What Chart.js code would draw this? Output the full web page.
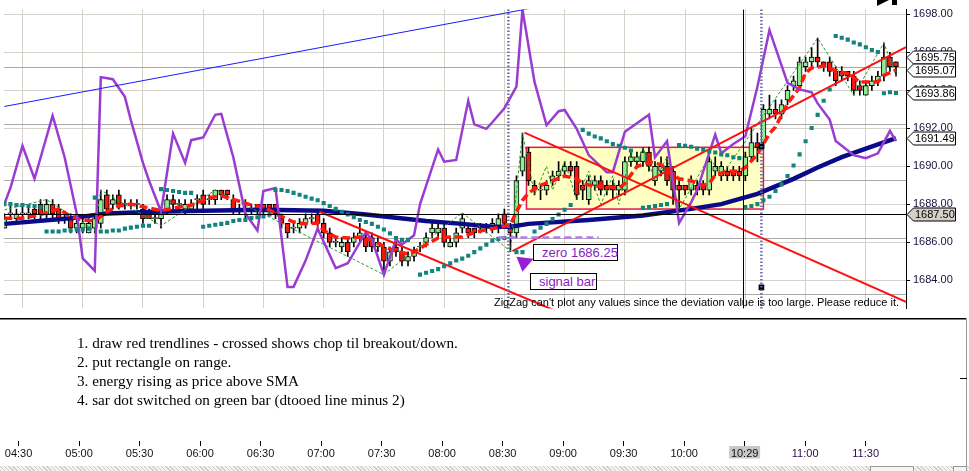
<!DOCTYPE html>
<html>
<head>
<meta charset="utf-8">
<script src="https://cdn.jsdelivr.net/npm/chart.js@4.4.1/dist/chart.umd.min.js"></script>
<style>
  html, body { margin: 0; padding: 0; background: #fff; }
  #wrap { position: relative; width: 969px; height: 471px; overflow: hidden; background: #fff; }
  #priceCanvas { position: absolute; left: 0; top: 0; }
  #timeCanvas { position: absolute; left: 0; top: 318px; }
  .note { position: absolute; left: 77px; font: 15.2px "Liberation Serif", serif; color: #000; line-height: 19px; white-space: nowrap; }
  .tag { position: absolute; box-sizing: border-box; height: 17px; border: 1px solid #000; background: #fff; color: #8a1cc4; font: 13px "Liberation Sans", sans-serif; line-height: 15px; padding-left: 8px; white-space: nowrap; }
  #zzmsg { position: absolute; left: 400px; width: 499px; top: 296px; text-align: right; font: 11px "Liberation Sans", sans-serif; line-height: 12px; color: #000; white-space: nowrap; }
  #scroll { position: absolute; left: 0; top: 466px; width: 969px; height: 5px; background: repeating-linear-gradient(45deg, #cfcfcf 0 1px, #f2f2f2 1px 3px); }
  .thumb { position: absolute; top: 466px; height: 5px; box-sizing: border-box; border: 1px solid #9a9a9a; border-bottom: none; background: #f4f4f4; }
</style>
</head>
<body>
<div id="wrap">
  <canvas id="priceCanvas" width="969" height="318"></canvas>
  <canvas id="timeCanvas" width="969" height="153"></canvas>
  <div id="zzmsg">ZigZag can't plot any values since the deviation value is too large. Please reduce it.</div>
  <div class="tag" style="left:533px; top:244px; width:85px;">zero 1686.25</div>
  <div class="tag" style="left:530px; top:273px; width:67px;">signal bar</div>
  <div class="note" style="top:333px">1. draw red trendlines - crossed shows chop til breakout/down.</div>
  <div class="note" style="top:352px">2. put rectangle on range.</div>
  <div class="note" style="top:371px">3. energy rising as price above SMA</div>
  <div class="note" style="top:390px">4. sar dot switched on green bar (dtooed line minus 2)</div>
  <div id="scroll"></div>
  <div class="thumb" style="left:870px; width:44px;"></div>
  <div class="thumb" style="left:953px; width:14px;"></div>
</div>
<script>
Chart.defaults.font.family = '"Liberation Sans", Arial, sans-serif';

// 3 minute bars, first one at 04:21
const firstBar = '04:21';
const barMinutes = 3;

const opens = [
  1686.75, 1687.50, 1687.25, 1687.50, 1687.50, 1687.75, 1688.00, 1687.50, 1688.00, 1687.75,
  1687.25, 1687.25, 1686.75, 1686.75, 1686.50, 1686.75, 1687.00, 1688.50, 1688.00, 1688.50,
  1688.00, 1688.00, 1688.00, 1687.75, 1687.50, 1687.25, 1687.25, 1687.75, 1688.25, 1688.00,
  1687.75, 1687.75, 1688.25, 1688.50, 1688.25, 1688.25, 1688.75, 1688.75, 1688.25, 1687.75,
  1687.75, 1687.75, 1688.00, 1688.00, 1688.00, 1688.00, 1687.25, 1687.00, 1686.75, 1686.75,
  1687.00, 1687.25, 1687.50, 1687.00, 1686.50, 1686.00, 1685.75, 1686.00, 1686.00, 1686.25,
  1686.25, 1686.25, 1685.75, 1685.75, 1685.00, 1685.75, 1685.50, 1685.00, 1685.25, 1685.75,
  1686.00, 1686.50, 1686.50, 1686.75, 1685.75, 1686.00, 1686.75, 1686.75, 1686.75, 1686.75,
  1686.75, 1686.75, 1686.75, 1687.50, 1686.75, 1686.50, 1689.75, 1690.75, 1689.00, 1688.75,
  1688.75, 1689.25, 1689.50, 1689.75, 1690.00, 1690.00, 1689.00, 1688.25, 1689.00, 1689.25,
  1689.00, 1689.00, 1688.75, 1688.75, 1690.25, 1690.25, 1690.25, 1690.75, 1689.25, 1689.75,
  1690.00, 1689.75, 1689.00, 1689.00, 1688.75, 1689.00, 1689.00, 1688.75, 1689.75, 1689.50,
  1689.75, 1689.75, 1689.75, 1689.50, 1690.50, 1691.25, 1691.25, 1692.75, 1693.00, 1692.75,
  1693.50, 1694.25, 1694.25, 1695.25, 1695.50, 1695.75, 1695.50, 1695.50, 1695.00, 1695.00,
  1695.00, 1694.75, 1694.25, 1693.75, 1694.25, 1694.50, 1694.75, 1695.75, 1695.50
];
const highs = [
  1687.50, 1688.00, 1687.75, 1688.00, 1688.00, 1688.00, 1688.25, 1688.25, 1688.25, 1688.00,
  1687.50, 1687.50, 1687.25, 1687.25, 1687.25, 1687.50, 1688.75, 1688.75, 1688.50, 1688.75,
  1688.25, 1688.25, 1688.25, 1688.00, 1687.75, 1687.75, 1687.75, 1688.50, 1688.50, 1688.25,
  1688.25, 1688.25, 1688.50, 1688.75, 1688.50, 1688.75, 1688.75, 1688.75, 1688.50, 1688.00,
  1688.25, 1688.00, 1688.00, 1688.00, 1688.00, 1688.00, 1687.50, 1687.00, 1687.00, 1687.25,
  1687.50, 1687.50, 1687.75, 1687.25, 1686.75, 1686.25, 1686.25, 1686.25, 1686.50, 1687.00,
  1686.50, 1686.50, 1686.25, 1686.00, 1685.75, 1686.00, 1685.75, 1685.50, 1685.75, 1686.00,
  1686.50, 1687.00, 1687.00, 1687.00, 1686.25, 1686.75, 1687.50, 1687.00, 1686.75, 1687.00,
  1687.00, 1687.25, 1687.50, 1687.75, 1687.00, 1689.50, 1691.75, 1691.00, 1689.25, 1689.00,
  1689.25, 1689.75, 1690.25, 1690.25, 1690.25, 1690.25, 1689.25, 1689.50, 1689.50, 1689.50,
  1689.25, 1689.25, 1689.25, 1690.50, 1690.75, 1690.75, 1691.00, 1691.00, 1690.25, 1690.50,
  1690.50, 1690.00, 1689.25, 1689.00, 1689.50, 1689.25, 1689.25, 1690.50, 1690.50, 1690.25,
  1690.00, 1690.00, 1690.00, 1690.75, 1692.00, 1691.75, 1693.25, 1693.75, 1693.50, 1693.50,
  1694.25, 1694.75, 1695.75, 1695.75, 1696.25, 1696.75, 1695.50, 1695.75, 1695.25, 1695.25,
  1695.00, 1695.00, 1694.50, 1694.50, 1694.75, 1695.00, 1696.50, 1696.00, 1695.50
];
const lows = [
  1686.75, 1687.25, 1687.00, 1687.25, 1687.25, 1687.25, 1687.25, 1687.25, 1687.25, 1687.00,
  1687.00, 1686.50, 1686.50, 1686.50, 1686.50, 1686.50, 1686.75, 1687.50, 1687.75, 1687.75,
  1687.75, 1687.75, 1687.75, 1687.00, 1687.25, 1687.00, 1686.75, 1687.50, 1687.75, 1687.75,
  1687.50, 1687.75, 1687.75, 1687.75, 1688.00, 1688.00, 1688.25, 1688.25, 1687.50, 1687.50,
  1687.25, 1687.50, 1687.50, 1687.50, 1687.50, 1687.25, 1686.75, 1686.25, 1686.50, 1686.50,
  1686.75, 1687.00, 1686.75, 1686.25, 1685.75, 1685.75, 1685.50, 1685.25, 1685.75, 1686.00,
  1685.50, 1685.50, 1685.50, 1684.25, 1684.75, 1685.25, 1684.75, 1684.75, 1685.00, 1685.50,
  1685.75, 1686.25, 1686.25, 1685.75, 1685.75, 1685.75, 1686.50, 1686.25, 1686.25, 1686.50,
  1686.50, 1686.50, 1686.50, 1686.75, 1685.50, 1686.25, 1689.50, 1689.00, 1688.50, 1688.25,
  1688.50, 1689.00, 1689.25, 1689.50, 1689.50, 1688.25, 1688.25, 1688.00, 1688.75, 1688.50,
  1688.50, 1688.25, 1688.50, 1688.50, 1690.00, 1690.00, 1690.00, 1689.75, 1689.00, 1689.50,
  1689.00, 1688.00, 1687.75, 1688.50, 1688.50, 1688.50, 1688.50, 1688.50, 1689.50, 1689.25,
  1689.25, 1689.25, 1689.25, 1689.25, 1690.25, 1690.25, 1691.00, 1692.50, 1692.50, 1692.50,
  1693.25, 1694.00, 1694.00, 1695.00, 1695.25, 1695.25, 1695.00, 1694.75, 1694.25, 1694.50,
  1694.50, 1693.75, 1693.75, 1693.75, 1694.00, 1694.25, 1694.50, 1695.00, 1694.75
];
const closes = [
  1687.25, 1687.50, 1687.50, 1687.50, 1687.50, 1687.50, 1687.50, 1688.00, 1687.50, 1687.25,
  1687.25, 1686.75, 1687.00, 1687.00, 1687.00, 1687.25, 1688.25, 1687.75, 1688.25, 1688.00,
  1688.00, 1688.00, 1688.00, 1687.25, 1687.25, 1687.25, 1687.50, 1688.25, 1688.00, 1688.00,
  1688.00, 1688.00, 1688.25, 1688.00, 1688.25, 1688.75, 1688.50, 1688.50, 1687.75, 1687.75,
  1687.75, 1687.75, 1687.75, 1687.75, 1687.75, 1687.50, 1687.00, 1686.50, 1686.75, 1687.00,
  1687.25, 1687.25, 1687.00, 1686.50, 1686.00, 1686.00, 1686.00, 1685.50, 1686.25, 1686.50,
  1685.75, 1685.75, 1686.00, 1685.00, 1685.50, 1685.50, 1685.00, 1685.25, 1685.50, 1685.75,
  1686.25, 1686.75, 1686.75, 1686.00, 1686.00, 1686.50, 1687.25, 1686.50, 1686.50, 1686.75,
  1686.75, 1687.00, 1687.25, 1687.00, 1686.50, 1689.25, 1690.50, 1689.25, 1688.75, 1688.75,
  1689.00, 1689.50, 1689.75, 1690.00, 1689.75, 1688.50, 1688.75, 1689.25, 1689.25, 1688.75,
  1688.75, 1688.75, 1689.00, 1690.25, 1690.50, 1690.50, 1690.75, 1690.00, 1690.00, 1690.00,
  1689.25, 1688.75, 1688.75, 1688.75, 1689.25, 1688.75, 1688.75, 1690.25, 1690.00, 1690.00,
  1689.50, 1689.50, 1689.50, 1690.50, 1691.25, 1691.00, 1693.00, 1693.00, 1692.75, 1693.25,
  1694.00, 1694.50, 1695.50, 1695.50, 1695.75, 1695.50, 1695.25, 1695.00, 1694.50, 1694.75,
  1694.75, 1694.00, 1694.00, 1694.25, 1694.50, 1694.75, 1695.75, 1695.25, 1695.25
];

// indicators as [bar index, value]
const smaLine = [
  [0, 1686.97], [11, 1687.27], [17, 1687.51], [25, 1687.61], [33, 1687.66], [43, 1687.71],
  [53, 1687.66], [60, 1687.46], [70, 1687.12], [76, 1686.97], [81, 1686.82], [84, 1686.82],
  [87, 1686.97], [97, 1687.17], [106, 1687.41], [114, 1687.76], [119, 1688.01], [125, 1688.55],
  [131, 1689.34], [135, 1689.94], [139, 1690.48], [143, 1690.93], [148, 1691.49]
];
const fastAvg = [
  [0, 1687.27], [3, 1687.27], [6, 1687.46], [9, 1687.76], [11, 1687.36], [13, 1687.17],
  [15, 1687.12], [17, 1687.61], [19, 1687.91], [21, 1688.01], [24, 1687.81], [26, 1687.66],
  [29, 1687.86], [31, 1687.96], [34, 1688.35], [36, 1688.45], [39, 1688.16], [41, 1687.96],
  [43, 1687.86], [46, 1687.36], [48, 1687.07], [50, 1686.97], [52, 1687.02], [53, 1686.62],
  [55, 1686.28], [57, 1686.23], [59, 1686.28], [61, 1686.13], [63, 1685.78], [65, 1685.53],
  [67, 1685.39], [68, 1685.48], [70, 1685.88], [72, 1686.23], [74, 1686.28], [76, 1686.28],
  [78, 1686.52], [80, 1686.67], [82, 1686.77], [84, 1686.92], [85, 1687.61], [86, 1688.21],
  [87, 1688.60], [89, 1689.00], [91, 1689.24], [93, 1689.49], [95, 1689.34], [96, 1689.10],
  [98, 1688.95], [100, 1688.95], [102, 1688.85], [103, 1689.10], [105, 1689.99], [107, 1690.23],
  [109, 1690.09], [111, 1689.54], [112, 1689.34], [114, 1689.24], [116, 1689.00], [117, 1689.10],
  [118, 1689.54], [120, 1689.74], [122, 1689.74], [123, 1689.94], [125, 1690.63], [126, 1691.17],
  [127, 1691.72], [128, 1692.07], [130, 1693.30], [132, 1694.14], [133, 1694.93], [134, 1695.18],
  [136, 1695.28], [138, 1695.03], [140, 1694.89], [142, 1694.44], [145, 1694.44], [146, 1694.79],
  [148, 1695.07]
];
const zigzag = [
  [0, 1687.71], [7, 1688.25], [15, 1686.62], [16, 1688.75], [26, 1686.87], [35, 1688.75],
  [63, 1684.30], [76, 1687.56], [84, 1685.53], [86, 1691.77], [88, 1688.50], [90, 1690.00],
  [91, 1688.75], [93, 1690.25], [95, 1688.25], [97, 1689.75], [99, 1688.00], [101, 1689.50],
  [102, 1688.00], [104, 1690.75], [105, 1690.25], [106, 1691.00], [108, 1689.25], [110, 1690.50],
  [112, 1687.75], [117, 1690.50], [119, 1689.50], [135, 1696.75], [141, 1693.75], [146, 1696.50],
  [148, 1694.75]
];
const sarDots = [
  [0, 1688.01], [1, 1688.01], [2, 1687.96], [3, 1687.96], [4, 1687.91], [5, 1687.91], [6, 1687.86],
  [7, 1686.57], [8, 1686.57], [9, 1686.57], [10, 1686.62], [11, 1686.62], [12, 1686.67], [13, 1686.67], [14, 1686.72],
  [15, 1688.35],
  [16, 1686.57], [17, 1686.57], [18, 1686.62], [19, 1686.62], [20, 1686.72], [21, 1686.77], [22, 1686.82], [23, 1686.87], [24, 1686.87],
  [26, 1688.80], [27, 1688.75], [28, 1688.70], [29, 1688.65], [30, 1688.60], [31, 1688.60],
  [33, 1686.82], [34, 1686.87], [35, 1686.92], [36, 1686.97], [37, 1687.02], [38, 1687.12], [39, 1687.17], [40, 1687.17],
  [41, 1687.27], [42, 1687.32], [43, 1687.36], [44, 1687.46],
  [45, 1688.75], [46, 1688.75], [47, 1688.70], [48, 1688.60], [49, 1688.50], [50, 1688.40], [51, 1688.30], [52, 1688.21],
  [53, 1688.06], [54, 1687.91], [55, 1687.76], [56, 1687.61], [57, 1687.46], [58, 1687.32], [59, 1687.17], [60, 1687.07],
  [61, 1686.97], [62, 1686.82], [63, 1686.67], [64, 1686.47], [65, 1686.23], [66, 1686.13], [67, 1686.13],
  [69, 1684.30], [70, 1684.40], [71, 1684.49], [72, 1684.59], [73, 1684.74], [74, 1684.89], [75, 1685.04], [76, 1685.14],
  [77, 1685.29], [78, 1685.48], [79, 1685.68], [80, 1685.88], [81, 1686.08], [82, 1686.18], [83, 1686.23],
  [85, 1685.48], [86, 1685.48],
  [88, 1686.57], [89, 1686.77], [90, 1686.97], [91, 1687.22], [92, 1687.46], [93, 1687.71], [94, 1687.96],
  [96, 1691.92], [97, 1691.72], [98, 1691.57], [99, 1691.47], [100, 1691.32], [101, 1691.17], [102, 1691.08], [103, 1690.98], [104, 1690.83],
  [106, 1687.81], [107, 1687.86], [108, 1687.91], [109, 1687.96], [110, 1688.01],
  [112, 1691.12], [113, 1691.08], [114, 1691.03], [115, 1690.93], [116, 1690.88], [117, 1690.78], [118, 1690.73],
  [119, 1690.63], [120, 1690.58], [121, 1690.48], [122, 1690.43],
  [123, 1687.86], [124, 1687.91], [125, 1688.01], [126, 1688.21], [127, 1688.40], [128, 1688.70], [129, 1689.05],
  [130, 1689.49], [131, 1690.04], [132, 1690.63], [133, 1691.32], [134, 1692.02], [135, 1692.71], [136, 1693.45], [137, 1694.04],
  [138, 1696.86], [139, 1696.77], [140, 1696.67], [141, 1696.52], [142, 1696.42], [143, 1696.27], [144, 1696.12], [145, 1696.02],
  [146, 1693.85], [147, 1693.90], [148, 1693.86]
];
// energy oscillator, 0..100 over the price pane
const energy = [
  [0, 34.9], [1, 40.3], [3, 54.4], [5, 43.4], [8, 64.5], [10, 50.6], [12, 31.8], [13, 16.7], [15, 12.6],
  [16, 77.4], [18, 76.7], [20, 70.8], [21, 62.9], [23, 48.7], [24, 42.8], [26, 32.4], [28, 58.5], [30, 48.7],
  [31, 56.3], [33, 57.2], [35, 64.8], [36, 65.1], [38, 50.6], [40, 31.8], [42, 26.1], [43, 39.3], [45, 40.3],
  [47, 7.2], [48, 7.2], [50, 16.0], [52, 26.7], [53, 22.3], [55, 13.5], [57, 15.1], [60, 25.5], [61, 23.0],
  [63, 11.3], [65, 23.0], [66, 21.4], [68, 24.5], [69, 34.9], [72, 53.2], [73, 49.1], [75, 49.7], [77, 69.5],
  [78, 61.6], [80, 60.1], [81, 62.3], [83, 67.0], [85, 74.2], [86, 100], [88, 75.8], [90, 61.3], [92, 66.0],
  [93, 66.4], [95, 60.1], [97, 51.3], [100, 45.6], [101, 45.6], [103, 59.1], [107, 64.8], [108, 50.6],
  [110, 56.0], [112, 28.6], [114, 35.5], [115, 39.6], [118, 58.2], [119, 51.9], [121, 55.0], [123, 57.6],
  [125, 74.2], [127, 93.1], [130, 75.5], [132, 73.3], [134, 72.3], [135, 68.6], [137, 63.2], [138, 56.0],
  [141, 51.3], [143, 50.3], [145, 51.9], [147, 59.4], [148, 56.0]
];

// drawn objects, [time, price]
const redTrends = [
  [['06:58', 1687.61], ['09:05', 1681.97]],
  [['08:40', 1691.77], ['11:50', 1682.86]],
  [['08:34', 1685.53], ['11:50', 1696.27]]
];
const blueTrend = [['04:21', 1693.15], ['09:00', 1698.65]];
const rangeStart = '08:41', rangeEnd = '10:39', rangeHigh = 1691.00, rangeLow = 1687.75;
const zeroStart = '08:27', zeroEnd = '09:17', zeroLevel = 1686.25;
const signalTimes = ['08:32', '10:38'];
const stopMarks = [['10:38', 1691.05], ['10:38', 1683.63]];
const crossTime = '10:29', crossPrice = 1687.50;

const priceTicks = [1684, 1686, 1688, 1690, 1692, 1694, 1696, 1698];
const majorLevels = [1683.25, 1686.22, 1689.24, 1692.21, 1695.18];
const priceFlags = [1695.75, 1695.07, 1693.86, 1691.49, 1687.50];
const timeTicks = ['04:30', '05:00', '05:30', '06:00', '06:30', '07:00', '07:30', '08:00',
  '08:30', '09:00', '09:30', '10:00', '10:30', '11:00', '11:30'];

const viewStart = 260.8, viewEnd = 710;
const priceMin = 1682.52, priceMax = 1698.25;

function toMin(s) {
  const [h, m] = s.split(':').map(Number);
  return h * 60 + m;
}

const barTimes = opens.map((o, i) => toMin(firstBar) + i * barMinutes);
const atBar = pairs => pairs.map(([i, v]) => ({ x: barTimes[i], y: v }));
const atTime = pts => pts.map(([t, v]) => ({ x: toMin(t), y: v }));

const bodies = opens.map((o, i) => ({ x: barTimes[i], y: [o, closes[i]] }));
const wicks = opens.map((o, i) => ({ x: barTimes[i], y: [lows[i], highs[i]] }));
const bodyColors = opens.map((o, i) => closes[i] < o ? '#f0180c' : '#90ee90');

function lineSet(data, color, width, extra) {
  return Object.assign({
    type: 'line', data: data, borderColor: color, borderWidth: width,
    pointRadius: 0, tension: 0, fill: false, yAxisID: 'y'
  }, extra || {});
}

const priceDecor = {
  id: 'priceDecor',
  beforeDatasetsDraw(chart) {
    const { ctx, scales: { x, y } } = chart;
    const l = x.getPixelForValue(toMin(rangeStart)), r = x.getPixelForValue(toMin(rangeEnd));
    const t = y.getPixelForValue(rangeHigh), b = y.getPixelForValue(rangeLow);
    ctx.save();
    ctx.fillStyle = '#ffffc4';
    ctx.fillRect(l, t, r - l, b - t);
    ctx.strokeStyle = '#e0174a';
    ctx.lineWidth = 1.5;
    ctx.strokeRect(l, t, r - l, b - t);
    ctx.restore();
  },
  afterDatasetsDraw(chart) {
    const { ctx, chartArea: area, scales: { x, y } } = chart;
    ctx.save();
    // crosshair
    ctx.strokeStyle = '#000';
    ctx.lineWidth = 1;
    const cy = Math.round(y.getPixelForValue(crossPrice)) + 0.5;
    const cx = Math.round(x.getPixelForValue(toMin(crossTime))) + 0.5;
    ctx.beginPath();
    ctx.moveTo(area.left, cy); ctx.lineTo(area.right, cy);
    ctx.moveTo(cx, area.top); ctx.lineTo(cx, area.bottom);
    ctx.stroke();
    // signal bar verticals
    ctx.strokeStyle = '#6a6ab0';
    ctx.lineWidth = 2.5;
    ctx.setLineDash([1.5, 2]);
    signalTimes.forEach(t => {
      const px = x.getPixelForValue(toMin(t));
      ctx.beginPath(); ctx.moveTo(px, area.top); ctx.lineTo(px, area.bottom); ctx.stroke();
    });
    // zero line
    ctx.strokeStyle = '#b47ce6';
    ctx.lineWidth = 2.5;
    ctx.setLineDash([7, 4]);
    const zy = y.getPixelForValue(zeroLevel);
    ctx.beginPath();
    ctx.moveTo(x.getPixelForValue(toMin(zeroStart)), zy);
    ctx.lineTo(x.getPixelForValue(toMin(zeroEnd)), zy);
    ctx.stroke();
    ctx.setLineDash([]);
    // arrow to the signal bar low
    const ax = x.getPixelForValue(barTimes[85]), ay = y.getPixelForValue(lows[84]) + 5;
    ctx.fillStyle = '#9a1ed6';
    ctx.beginPath();
    ctx.moveTo(ax, ay); ctx.lineTo(ax + 17, ay + 2); ctx.lineTo(ax + 6, ay + 15);
    ctx.closePath(); ctx.fill();
    ctx.restore();
  },
  afterDraw(chart) {
    const { ctx, scales: { y } } = chart;
    const axisX = y.left;
    ctx.save();
    ctx.font = '11px "Liberation Sans", Arial, sans-serif';
    ctx.textBaseline = 'middle';
    ctx.lineWidth = 1;
    ctx.strokeStyle = '#000';
    priceFlags.forEach(v => {
      const py = Math.round(y.getPixelForValue(v)) + 0.5;
      ctx.beginPath();
      ctx.moveTo(axisX + 1, py);
      ctx.lineTo(axisX + 7.5, py - 6.5);
      ctx.lineTo(axisX + 49.5, py - 6.5);
      ctx.lineTo(axisX + 49.5, py + 6.5);
      ctx.lineTo(axisX + 7.5, py + 6.5);
      ctx.closePath();
      ctx.fillStyle = v === crossPrice ? '#d4d0c8' : '#fff';
      ctx.fill();
      ctx.stroke();
      ctx.fillStyle = '#000';
      ctx.fillText(v.toFixed(2), axisX + 9, py + 0.5);
    });
    // corner buttons
    ctx.fillStyle = '#000';
    ctx.beginPath(); ctx.moveTo(877, 0); ctx.lineTo(889, 0); ctx.lineTo(877, 6); ctx.closePath(); ctx.fill();
    ctx.fillRect(892, 0, 5, 5);
    ctx.restore();
  }
};

new Chart(document.getElementById('priceCanvas'), {
  type: 'line',
  data: {
    datasets: [
      { type: 'bar', data: wicks, backgroundColor: '#000', barThickness: 1, grouped: false, order: 20, yAxisID: 'y' },
      { type: 'bar', data: bodies, backgroundColor: bodyColors, borderColor: '#000', borderWidth: 1,
        borderSkipped: false, barThickness: 5, minBarLength: 1, grouped: false, order: 19, yAxisID: 'y' },
      lineSet(atBar(smaLine), '#0b0b8a', 4.5, { order: 18 }),
      lineSet(atBar(zigzag), '#2c9a2c', 1, { borderDash: [3, 2], order: 17 }),
      lineSet(atBar(fastAvg), '#ff1a10', 3.5, { borderDash: [8, 4], order: 16 }),
      lineSet(atBar(energy), '#9a3cd2', 2.5, { yAxisID: 'yE', order: 15 }),
      ...redTrends.map(seg => lineSet(atTime(seg), '#ff1010', 2, { order: 14 })),
      lineSet(atTime(blueTrend), '#1a1aff', 1, { order: 14 }),
      { type: 'line', data: atBar(sarDots), showLine: false, pointStyle: 'rect', pointRadius: 2.9,
        pointBackgroundColor: '#13837e', pointBorderWidth: 0, order: 12, yAxisID: 'y' },
      { type: 'line', data: atTime(stopMarks), showLine: false, pointStyle: 'rect', pointRadius: 4,
        pointBackgroundColor: '#000', pointBorderWidth: 0, order: 11, yAxisID: 'y' }
    ]
  },
  options: {
    responsive: false,
    animation: false,
    events: [],
    layout: { padding: 0 },
    plugins: { legend: { display: false }, tooltip: { enabled: false } },
    scales: {
      x: {
        type: 'linear', min: viewStart, max: viewEnd, offset: false,
        afterBuildTicks: s => { s.ticks = timeTicks.map(t => ({ value: toMin(t) })); },
        afterFit: s => { s.height = 0; },
        grid: { color: '#d6d2ca', drawTicks: false, offset: false },
        border: { display: false },
        ticks: { display: false }
      },
      y: {
        position: 'right', min: priceMin, max: priceMax,
        afterBuildTicks: s => { s.ticks = priceTicks.map(v => ({ value: v })); },
        afterFit: s => { s.width = 63; },
        grid: { color: '#d6d2ca', tickColor: '#000', tickLength: 4 },
        border: { color: '#000', width: 1 },
        ticks: { callback: v => v.toFixed(2), color: '#14143c', font: { size: 11 }, padding: 3 }
      },
      yg: {
        position: 'right', min: priceMin, max: priceMax,
        afterBuildTicks: s => { s.ticks = majorLevels.map(v => ({ value: v })); },
        afterFit: s => { s.width = 0; },
        grid: { color: '#a9a9a9', drawTicks: false },
        border: { display: false },
        ticks: { display: false }
      },
      yE: { display: false, min: 0, max: 100 }
    }
  },
  plugins: [priceDecor]
});

const timeDecor = {
  id: 'timeDecor',
  beforeDraw(chart) {
    const { ctx, scales: { x } } = chart;
    ctx.save();
    ctx.fillStyle = '#000';
    ctx.fillRect(0, 0, 967, 1.5);
    ctx.fillStyle = '#9a9a9a';
    ctx.fillRect(966, 0, 1, 148);
    ctx.fillStyle = '#000';
    ctx.fillRect(960, 60, 7, 1);
    const i = x.ticks.findIndex(t => Math.abs(t.value - toMin(crossTime)) < 15);
    if (i >= 0) {
      const px = x.getPixelForTick(i);
      ctx.fillStyle = '#c8c8c8';
      ctx.fillRect(px - 15.5, x.top + 5, 31, 12.5);
    }
    ctx.restore();
  }
};

new Chart(document.getElementById('timeCanvas'), {
  type: 'line',
  data: { datasets: [] },
  options: {
    responsive: false,
    animation: false,
    events: [],
    layout: { padding: { left: 0, right: 63, top: 0, bottom: 0 } },
    plugins: { legend: { display: false }, tooltip: { enabled: false } },
    scales: {
      x: {
        type: 'linear', min: viewStart, max: viewEnd, offset: false,
        afterBuildTicks: s => { s.ticks = timeTicks.map(t => ({ value: toMin(t) })); },
        afterFit: s => { s.height = 30; },
        grid: { drawOnChartArea: false, drawTicks: true, tickLength: 5, tickColor: '#000', offset: false },
        border: { display: false },
        ticks: {
          autoSkip: false, maxRotation: 0, padding: 1,
          font: { size: 11 },
          color: c => c.index >= 13 ? '#2a0a50' : '#101018',
          callback: (v, i) => Math.abs(toMin(timeTicks[i]) - toMin(crossTime)) < 15 ? crossTime : timeTicks[i]
        }
      },
      y: { display: false, min: 0, max: 1 }
    }
  },
  plugins: [timeDecor]
});
</script>
</body>
</html>
